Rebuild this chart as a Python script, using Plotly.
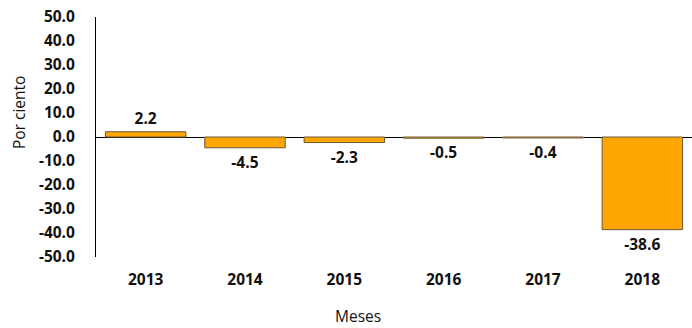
import plotly.graph_objects as go

years = ["2013", "2014", "2015", "2016", "2017", "2018"]
values = [2.2, -4.5, -2.3, -0.5, -0.4, -38.6]
tick_vals = [50, 40, 30, 20, 10, 0, -10, -20, -30, -40, -50]
tick_text = ["50.0", "40.0", "30.0", "20.0", "10.0", "0.0", "-10.0", "-20.0", "-30.0", "-40.0", "-50.0"]
x_title = "Meses"
y_title = "Por ciento"

font_family = "Open Sans, Liberation Sans, sans-serif"
fs = 15.5

fig = go.Figure(go.Bar(
    x=years, y=values,
    marker=dict(color="#FFA500", line=dict(color="#6a5a3c", width=1)),
    width=0.81,
    text=[f"{v:.1f}" for v in values],
    textposition="outside",
    textfont=dict(family=font_family, size=fs, color="#111111", weight="bold"),
    cliponaxis=False,
))

fig.update_layout(
    width=692, height=328,
    margin=dict(l=96, r=0, t=17, b=71),
    plot_bgcolor="white", paper_bgcolor="white",
    showlegend=False,
    font=dict(family=font_family, color="#111111"),
    annotations=[
        dict(text=x_title, xref="paper", yref="paper", x=0.4396, y=-0.3,
             xanchor="center", yanchor="bottom", showarrow=False,
             font=dict(size=fs, color="#111111")),
        dict(text=y_title, xref="paper", yref="paper", x=-0.1292, y=0.6042,
             xanchor="center", yanchor="middle", showarrow=False, textangle=-90,
             font=dict(size=fs, color="#111111")),
    ],
)
fig.update_xaxes(
    automargin=False,
    showline=False, showgrid=False, ticks="",
    tickfont=dict(family=font_family, size=fs, weight="bold"),
    ticklabelstandoff=11,
)
fig.update_yaxes(
    automargin=False,
    range=[-50, 50], tickvals=tick_vals, ticktext=tick_text,
    showgrid=False, zeroline=True, zerolinecolor="black", zerolinewidth=1,
    showline=True, linecolor="black", linewidth=1, ticks="",
    ticklabelstandoff=17, ticklabeloverflow="allow",
    tickfont=dict(family=font_family, size=fs, weight="bold"),
)

fig.write_html("out.html", config={"displayModeBar": False},
               post_script="document.body.style.margin='0';")
